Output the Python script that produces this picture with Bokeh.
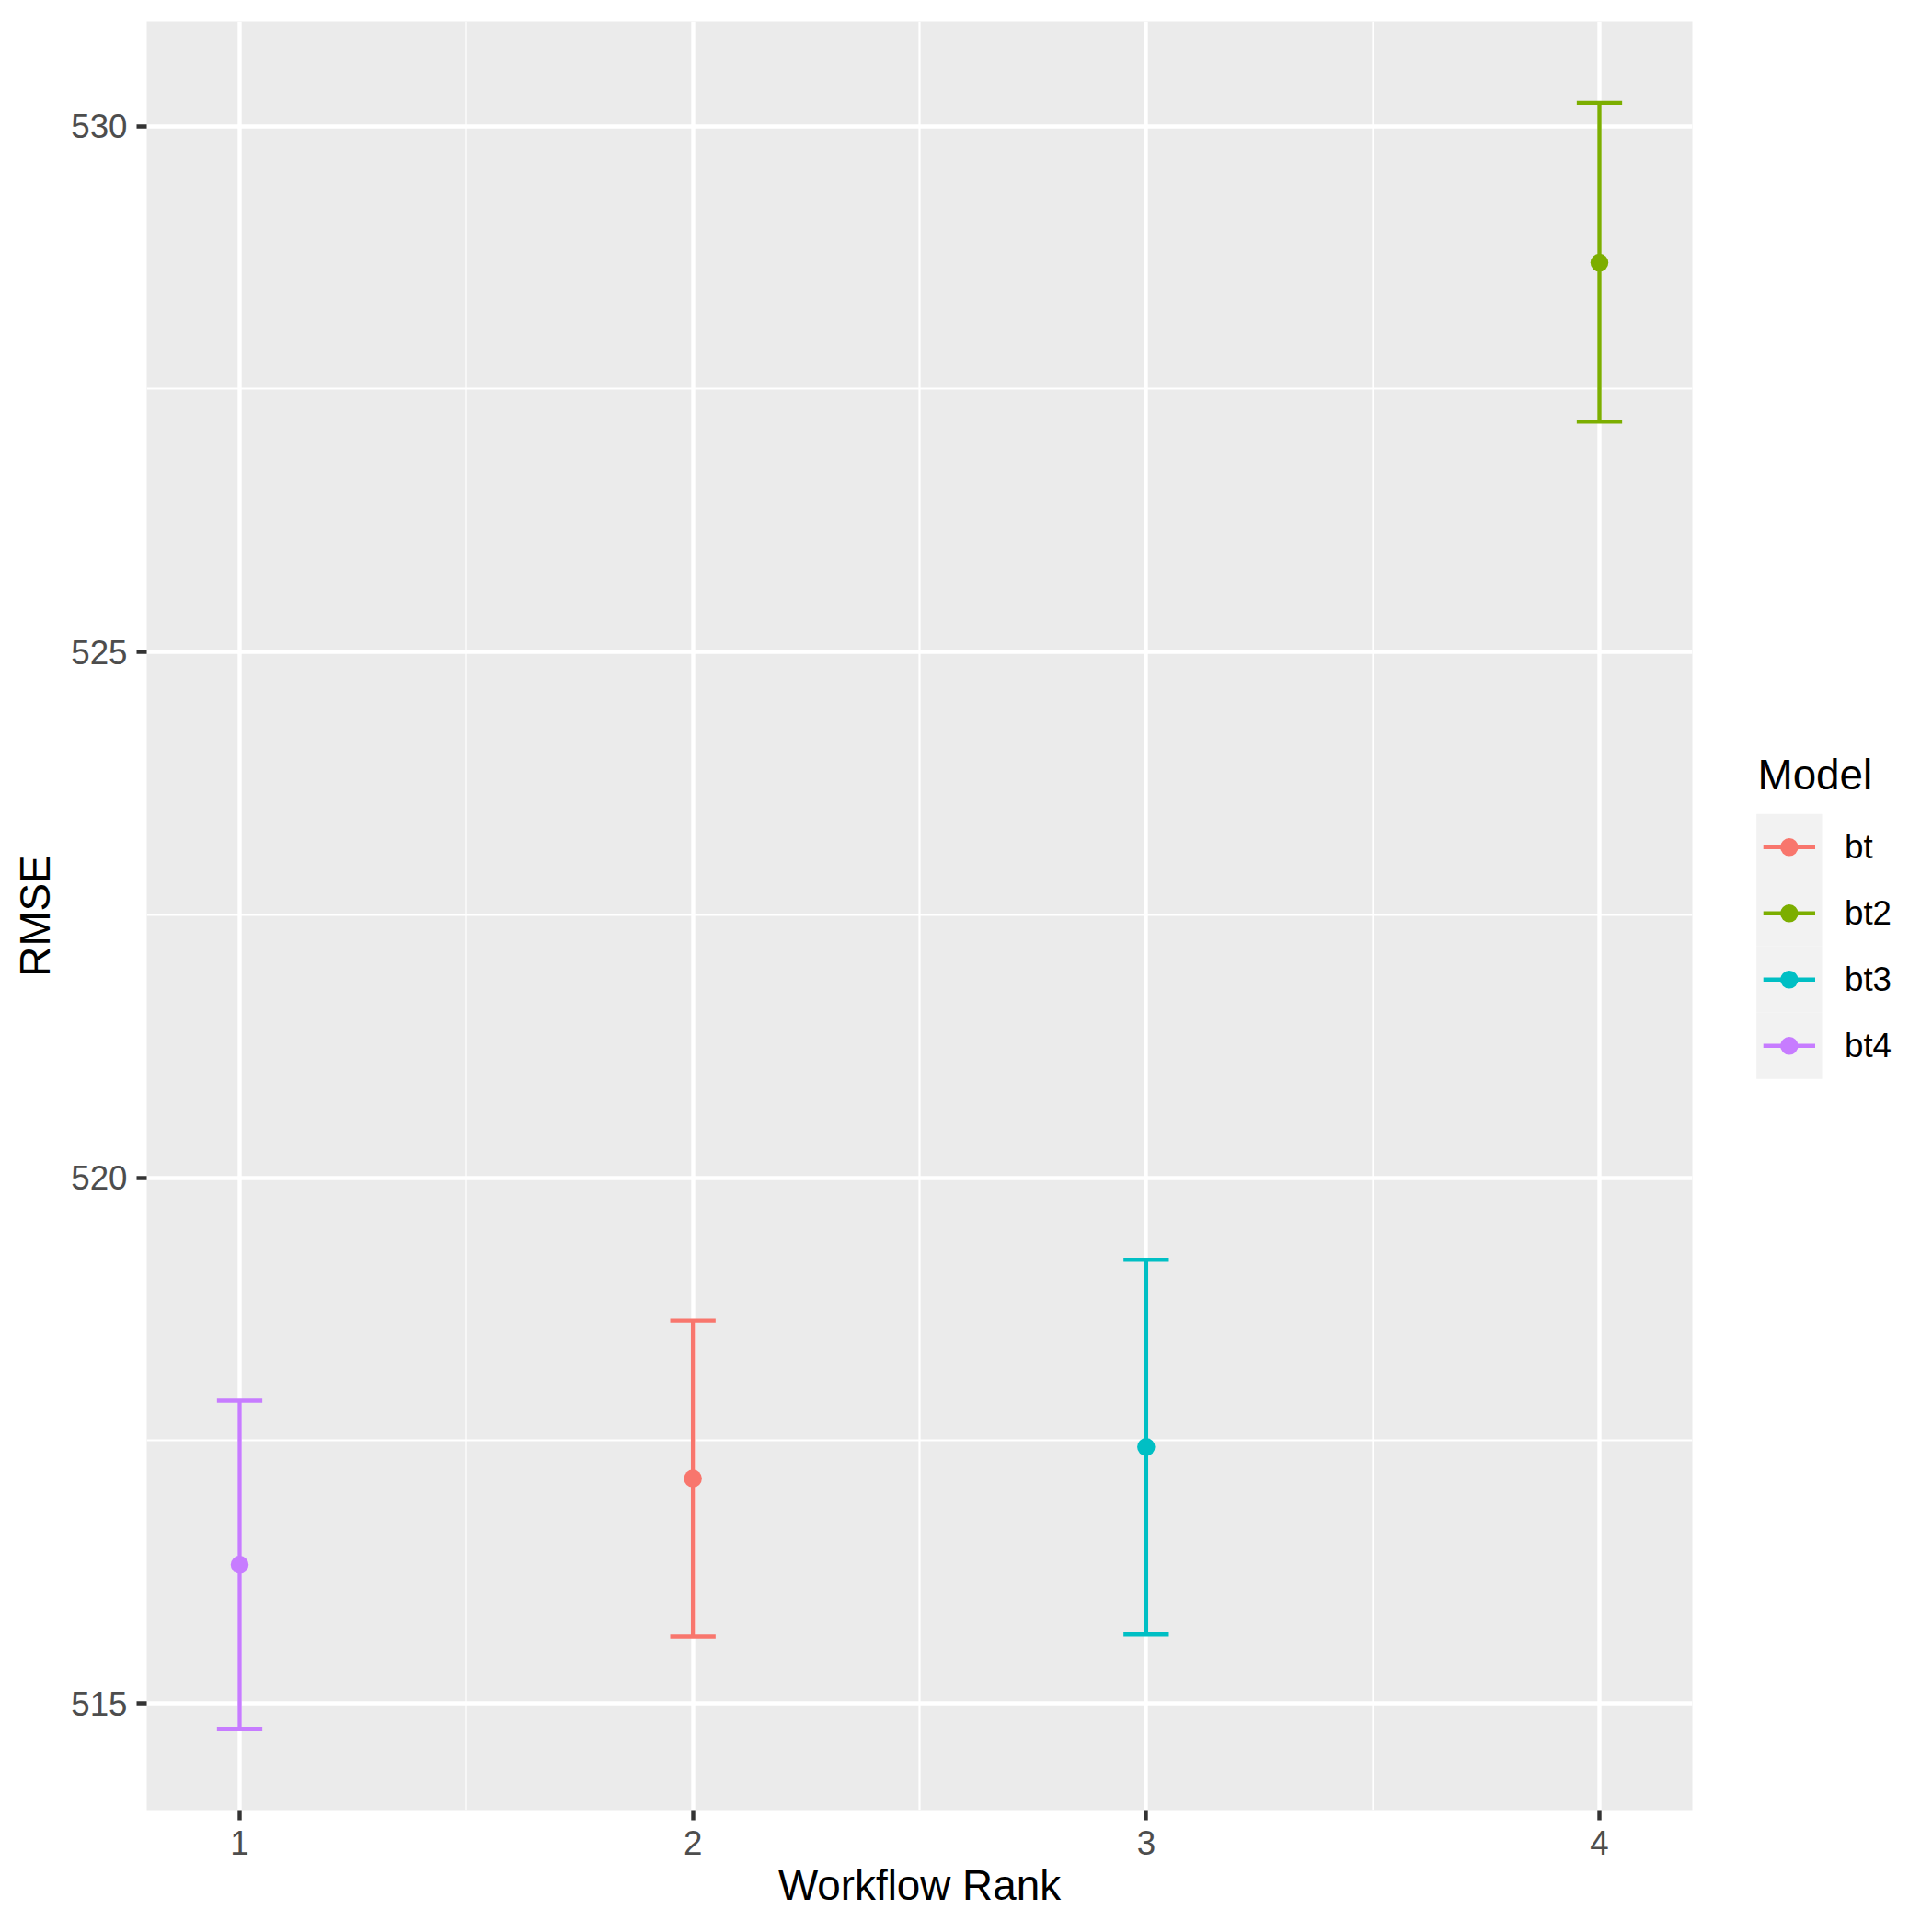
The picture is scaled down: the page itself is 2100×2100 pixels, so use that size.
from bokeh.plotting import figure
from bokeh.models import ColumnDataSource, Range1d, FixedTicker
from bokeh.layouts import row
from bokeh.embed import file_html
from bokeh.resources import INLINE
from bokeh.core.properties import value

# ---- data ----
models = ["bt", "bt2", "bt3", "bt4"]
model_colors = ["#F8766D", "#7CAE00", "#00BFC4", "#C77CFF"]
ranks = [1, 2, 3, 4]
rank_model = ["bt4", "bt", "bt3", "bt2"]
rmse_mean = [516.32, 517.14, 517.44, 528.70]
rmse_lower = [514.76, 515.64, 515.66, 527.19]
rmse_upper = [517.88, 518.64, 519.22, 530.22]
y_ticks = [515, 520, 525, 530]
x_ticks = [1, 2, 3, 4]

FONT = "Liberation Sans"
cmap = dict(zip(models, model_colors))

src = ColumnDataSource(dict(
    rank=ranks, model=rank_model, mean=rmse_mean, lower=rmse_lower,
    upper=rmse_upper, color=[cmap[m] for m in rank_model]))

# ggplot-like ranges: errorbar width 0.1, 5% expansion
cap_half = 0.05
xlo, xhi = min(ranks) - cap_half, max(ranks) + cap_half
xpad = 0.05 * (xhi - xlo)
ylo, yhi = min(rmse_lower), max(rmse_upper)
ypad = 0.05 * (yhi - ylo)

TOP, BOTTOM = 23, 133
H = 2100

p = figure(width=1860, height=H, output_backend="svg", toolbar_location=None,
           x_range=Range1d(xlo - xpad, xhi + xpad),
           y_range=Range1d(ylo - ypad, yhi + ypad),
           min_border_left=159, min_border_right=21,
           min_border_top=TOP, min_border_bottom=BOTTOM)
p.background_fill_color = "#ebebeb"
p.border_fill_color = "white"
p.outline_line_color = None

p.xaxis.ticker = FixedTicker(ticks=x_ticks, minor_ticks=[1.5, 2.5, 3.5])
p.yaxis.ticker = FixedTicker(ticks=y_ticks, minor_ticks=[517.5, 522.5, 527.5])
for g in (p.xgrid, p.ygrid):
    g.grid_line_color = "white"
    g.grid_line_width = 4.4
    g.minor_grid_line_color = "white"
    g.minor_grid_line_width = 2.2

for ax in (p.xaxis, p.yaxis):
    ax.axis_line_color = None
    ax.minor_tick_line_color = None
    ax.major_tick_in = 0
    ax.major_tick_out = 11
    ax.major_tick_line_color = "#333333"
    ax.major_tick_line_width = 4.4
    ax.major_label_text_font = FONT
    ax.major_label_text_font_size = "36.7px"
    ax.major_label_text_color = "#4d4d4d"
    ax.axis_label_text_font = FONT
    ax.axis_label_text_font_size = "45.8px"
    ax.axis_label_text_font_style = "normal"
    ax.axis_label_text_color = "black"

p.xaxis.axis_label = "Workflow Rank"
p.yaxis.axis_label = "RMSE"
p.xaxis.major_label_standoff = 11
p.xaxis.axis_label_standoff = 5
p.yaxis.major_label_standoff = 10
p.yaxis.axis_label_standoff = 10

p.segment(x0="rank", y0="lower", x1="rank", y1="upper", source=src,
          line_color="color", line_width=4.4)
p.scatter(x="rank", y="upper", source=src, marker="dash", size=49.3,
          line_color="color", line_width=4.4)
p.scatter(x="rank", y="lower", source=src, marker="dash", size=49.3,
          line_color="color", line_width=4.4)
p.scatter(x="rank", y="mean", source=src, size=19.5, fill_color="color",
          line_color=None)

# ---- legend panel (coordinates are page pixels) ----
lg = figure(width=240, height=H, output_backend="svg", toolbar_location=None,
            x_range=Range1d(0, 240), y_range=Range1d(H - BOTTOM, TOP),
            x_axis_location=None, y_axis_location=None,
            min_border_left=0, min_border_right=0,
            min_border_top=TOP, min_border_bottom=BOTTOM)
lg.outline_line_color = None
lg.grid.visible = False
lg.background_fill_color = "white"
lg.border_fill_color = "white"

key_top, key_h, key_left, key_w = 884.3, 72.0, 48.7, 71.3
key_cy = [key_top + key_h * (i + 0.5) for i in range(len(models))]
key_cx = key_left + key_w / 2
lsrc = ColumnDataSource(dict(
    cy=key_cy, cx=[key_cx] * len(models), x0=[key_left + 7.5] * len(models),
    x1=[key_left + key_w - 7.5] * len(models), lx=[key_left + key_w + 24.5] * len(models),
    label=models, color=model_colors))
lg.rect(x="cx", y="cy", width=key_w, height=key_h, source=lsrc,
        fill_color="#f2f2f2", line_color=None)
lg.segment(x0="x0", y0="cy", x1="x1", y1="cy", source=lsrc,
           line_color="color", line_width=4.4)
lg.scatter(x="cx", y="cy", source=lsrc, size=19.5, fill_color="color", line_color=None)
lg.text(x="lx", y="cy", text="label", source=lsrc, text_font=value(FONT),
        text_font_size="36.7px", text_baseline="alphabetic", y_offset=0,
        text_color="black")
lg.text(x=[50], y=[842], text=["Model"], text_font=value(FONT),
        text_font_size="45.8px", text_baseline="alphabetic", text_color="black")

layout = row(p, lg, spacing=0)
open("out.html", "w").write(file_html(layout, INLINE))
